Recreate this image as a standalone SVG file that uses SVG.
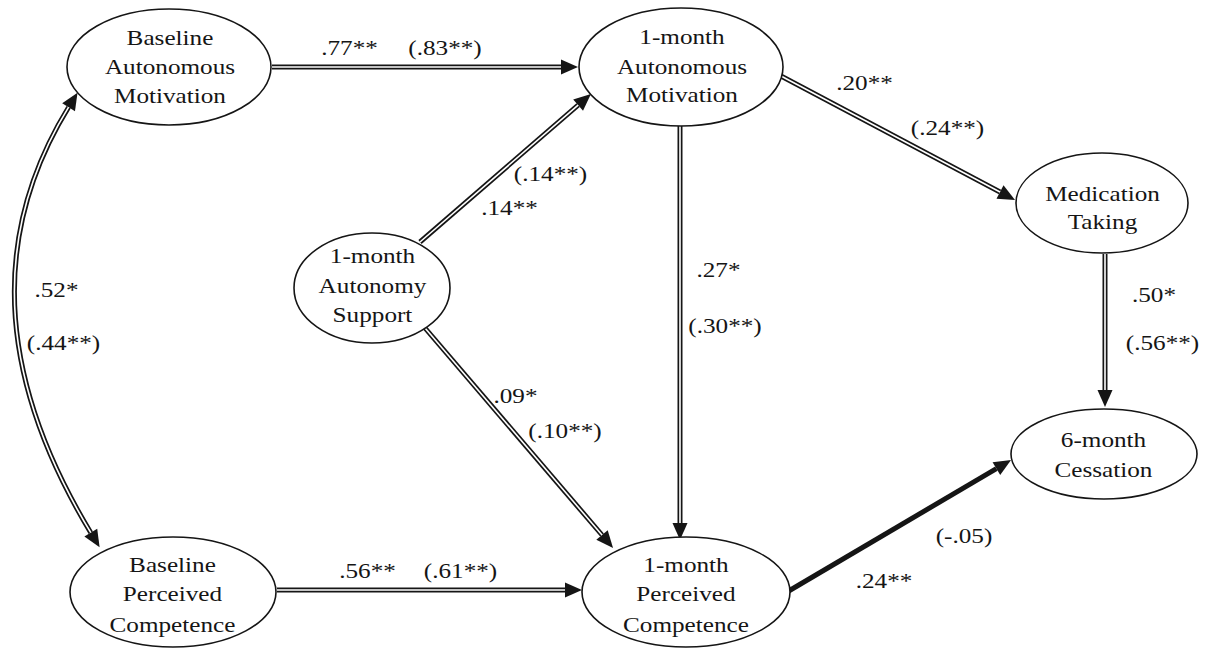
<svg xmlns="http://www.w3.org/2000/svg" width="1206" height="649" viewBox="0 0 1206 649">
<style>
  text { font-family: 'Liberation Serif', 'DejaVu Serif', serif; font-size: 20px; fill: #151515; text-anchor: middle; }
  ellipse { fill: #ffffff; stroke: #151515; stroke-width: 1.6; }
  .dbl { fill: none; stroke: #151515; stroke-width: 5; }
  .gap { fill: none; stroke: #ffffff; stroke-width: 1.6; }
  .thick { fill: none; stroke: #151515; stroke-width: 5; }
</style>
<defs>
  <marker id="ah" viewBox="0 -8 18 16" markerWidth="18" markerHeight="16" refX="0" refY="0" markerUnits="userSpaceOnUse" orient="auto-start-reverse" overflow="visible">
    <path d="M0,-7.5 L17,0 L0,7.5 z" fill="#151515"/>
  </marker>
</defs>
<rect x="0" y="0" width="1206" height="649" fill="#ffffff"/>

<g id="connectors" font-family="Liberation Serif, serif" font-size="20">
  <path class="dbl" d="M68.6,107.2 Q-50,300 90.8,532.7" marker-start="url(#ah)" marker-end="url(#ah)"/>
  <path class="gap" d="M68.6,107.2 Q-50,300 90.8,532.7"/>
  <path class="dbl" d="M272,67 L561,67" marker-end="url(#ah)"/>
  <path class="gap" d="M272,67 L561,67"/>
  <path class="dbl" d="M781,76 L1000,192" marker-end="url(#ah)"/>
  <path class="gap" d="M781,76 L1000,192"/>
  <path class="dbl" d="M420,242 L578.1,105.1" marker-end="url(#ah)"/>
  <path class="gap" d="M420,242 L578.1,105.1"/>
  <path class="dbl" d="M680,126 L680,523" marker-end="url(#ah)"/>
  <path class="gap" d="M680,126 L680,523"/>
  <path class="dbl" d="M425,328 L602,535" marker-end="url(#ah)"/>
  <path class="gap" d="M425,328 L602,535"/>
  <path class="dbl" d="M277,590 L565,590" marker-end="url(#ah)"/>
  <path class="gap" d="M277,590 L565,590"/>
  <path class="dbl" d="M1105,254 L1105,390" marker-end="url(#ah)"/>
  <path class="gap" d="M1105,254 L1105,390"/>
  <path class="thick" d="M787,592 L996.4,468.6" marker-end="url(#ah)"/>

  <text transform="matrix(1.26 0 0 1 -90.87 0)" x="349.5" y="55">.77**</text>
  <text transform="matrix(1.26 0 0 1 -115.7 0)" x="445" y="55">(.83**)</text>
  <text transform="matrix(1.26 0 0 1 -224.77 0)" x="864.5" y="90">.20**</text>
  <text transform="matrix(1.26 0 0 1 -246.35 0)" x="947.5" y="135">(.24**)</text>
  <text transform="matrix(1.26 0 0 1 -143.13 0)" x="550.5" y="181">(.14**)</text>
  <text transform="matrix(1.26 0 0 1 -132.47 0)" x="509.5" y="215">.14**</text>
  <text transform="matrix(1.26 0 0 1 -186.81 0)" x="718.5" y="277">.27*</text>
  <text transform="matrix(1.26 0 0 1 -188.5 0)" x="725" y="333">(.30**)</text>
  <text transform="matrix(1.26 0 0 1 -14.69 0)" x="56.5" y="297">.52*</text>
  <text transform="matrix(1.26 0 0 1 -16.51 0)" x="63.5" y="350">(.44**)</text>
  <text transform="matrix(1.26 0 0 1 -300.04 0)" x="1154" y="302">.50*</text>
  <text transform="matrix(1.26 0 0 1 -302.25 0)" x="1162.5" y="350">(.56**)</text>
  <text transform="matrix(1.26 0 0 1 -134.03 0)" x="515.5" y="403">.09*</text>
  <text transform="matrix(1.26 0 0 1 -146.9 0)" x="565" y="438">(.10**)</text>
  <text transform="matrix(1.26 0 0 1 -95.55 0)" x="367.5" y="578">.56**</text>
  <text transform="matrix(1.26 0 0 1 -119.73 0)" x="460.5" y="578">(.61**)</text>
  <text transform="matrix(1.26 0 0 1 -250.64 0)" x="964" y="543">(-.05)</text>
  <text transform="matrix(1.26 0 0 1 -229.84 0)" x="884" y="588">.24**</text>
</g>

<g id="baseline-autonomous-motivation" font-family="Liberation Serif, serif" font-size="20">
  <ellipse cx="169" cy="67" rx="102" ry="58"/>
  <g transform="matrix(1.26 0 0 1 -44.2 0)">
    <text x="170" y="45">Baseline</text>
    <text x="170" y="74">Autonomous</text>
    <text x="170" y="103">Motivation</text>
  </g>
</g>

<g id="one-month-autonomous-motivation" font-family="Liberation Serif, serif" font-size="20">
  <ellipse cx="681" cy="67" rx="102" ry="59"/>
  <g transform="matrix(1.26 0 0 1 -177.32 0)">
    <text x="682" y="44">1-month</text>
    <text x="682" y="74">Autonomous</text>
    <text x="682" y="102">Motivation</text>
  </g>
</g>

<g id="one-month-autonomy-support" font-family="Liberation Serif, serif" font-size="20">
  <ellipse cx="372" cy="288" rx="78" ry="55"/>
  <g transform="matrix(1.26 0 0 1 -96.85 0)">
    <text x="372.5" y="263">1-month</text>
    <text x="372.5" y="293">Autonomy</text>
    <text x="372.5" y="322">Support</text>
  </g>
</g>

<g id="medication-taking" font-family="Liberation Serif, serif" font-size="20">
  <ellipse cx="1102" cy="203" rx="86" ry="50"/>
  <g transform="matrix(1.26 0 0 1 -286.65 0)">
    <text x="1102.5" y="201">Medication</text>
    <text x="1102.5" y="229">Taking</text>
  </g>
</g>

<g id="six-month-cessation" font-family="Liberation Serif, serif" font-size="20">
  <ellipse cx="1104" cy="454" rx="93" ry="45"/>
  <g transform="matrix(1.26 0 0 1 -286.91 0)">
    <text x="1103.5" y="447">6-month</text>
    <text x="1103.5" y="477">Cessation</text>
  </g>
</g>

<g id="baseline-perceived-competence" font-family="Liberation Serif, serif" font-size="20">
  <ellipse cx="173" cy="592" rx="103" ry="55"/>
  <g transform="matrix(1.26 0 0 1 -44.85 0)">
    <text x="172.5" y="572">Baseline</text>
    <text x="172.5" y="601">Perceived</text>
    <text x="172.5" y="632">Competence</text>
  </g>
</g>

<g id="one-month-perceived-competence" font-family="Liberation Serif, serif" font-size="20">
  <ellipse cx="686" cy="592" rx="104" ry="55"/>
  <g transform="matrix(1.26 0 0 1 -178.36 0)">
    <text x="686" y="572">1-month</text>
    <text x="686" y="601">Perceived</text>
    <text x="686" y="632">Competence</text>
  </g>
</g>
</svg>
